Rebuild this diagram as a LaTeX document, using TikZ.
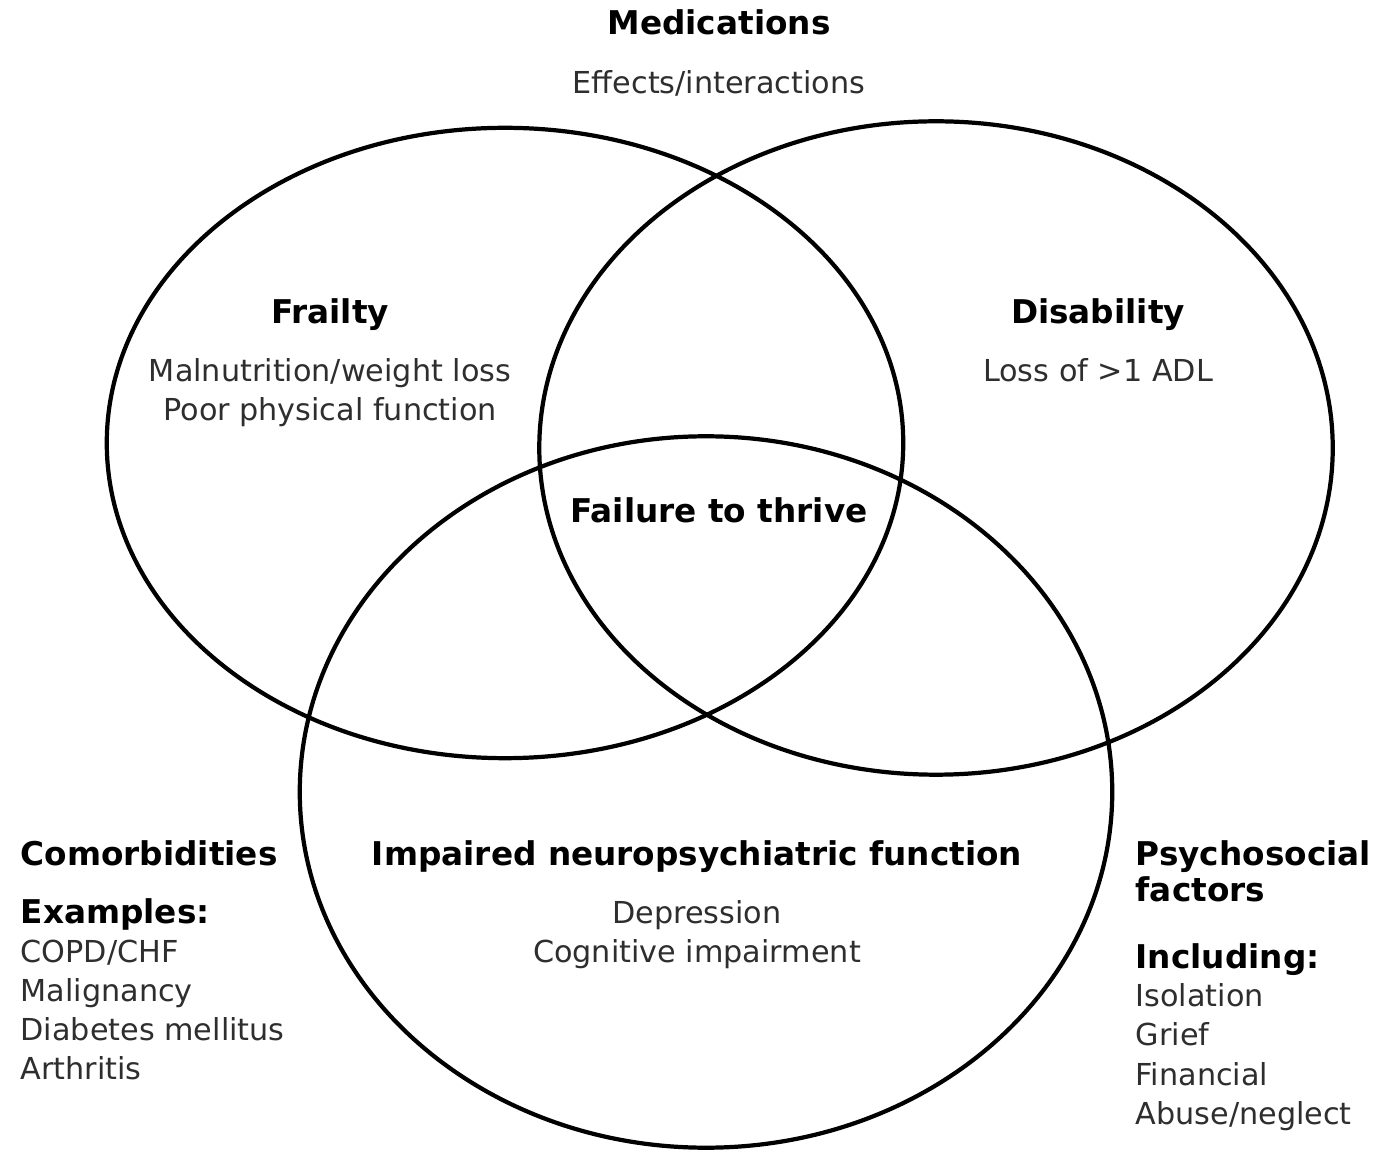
\documentclass[tikz,border=0pt]{standalone}
\usepackage{fontspec}
\setmainfont{DejaVu Sans}
\usetikzlibrary{shapes.geometric}
\begin{document}
\begin{tikzpicture}[x=0.01cm,y=-0.01cm,
  ring/.style={ellipse,draw=black,line width=1.2pt,inner sep=0pt,outer sep=0pt},
  head/.style={font=\fontsize{9.3}{11}\selectfont\bfseries,text=black,inner sep=0pt,anchor=mid},
  body/.style={font=\fontsize{8.6}{11}\selectfont,text=black!82,inner sep=0pt,anchor=mid},
  headl/.style={head,anchor=mid west},
  bodyl/.style={body,anchor=mid west}]
\useasboundingbox[fill=white] (0,0) rectangle (1380,1165);

% the three overlapping domains
\node[ring,minimum width=7.96cm,minimum height=6.30cm] (frailring) at (505,443) {};
\node[ring,minimum width=7.93cm,minimum height=6.53cm] (disring) at (936,448) {};
\node[ring,minimum width=8.12cm,minimum height=7.11cm] (neuroring) at (706,792) {};

% medications, above the diagram
\node[head] (med) at (719,25) {Medications};
\node[body] (medfx) at (719,84) {Effects/interactions};

% frailty
\node[head] (frail) at (330,314) {Frailty};
\node[body] (frail1) at (330,372) {Malnutrition/weight loss};
\node[body] (frail2) at (330,411) {Poor physical function};

% disability
\node[head] (dis) at (1098,314) {Disability};
\node[body] (dis1) at (1098,372) {Loss of >1 ADL};

% centre
\node[head] (ftt) at (719,513) {Failure to thrive};

% neuropsychiatric
\node[head] (neuro) at (697,856) {Impaired neuropsychiatric function};
\node[body] (neuro1) at (697,914) {Depression};
\node[body] (neuro2) at (697,953) {Cognitive impairment};

% comorbidities
\node[headl] (comor) at (20,856) {Comorbidities};
\node[headl] (comorex) at (20,914) {Examples:};
\node[bodyl] (comor1) at (20,953) {COPD/CHF};
\node[bodyl] (comor2) at (20,992) {Malignancy};
\node[bodyl] (comor3) at (20,1031) {Diabetes mellitus};
\node[bodyl] (comor4) at (20,1070) {Arthritis};

% psychosocial factors
\node[headl] (psy) at (1135,856) {Psychosocial};
\node[headl] (psyb) at (1135,892) {factors};
\node[headl] (psyinc) at (1135,959) {Including:};
\node[bodyl] (psy1) at (1135,997) {Isolation};
\node[bodyl] (psy2) at (1135,1036) {Grief};
\node[bodyl] (psy3) at (1135,1076) {Financial};
\node[bodyl] (psy4) at (1135,1115) {Abuse/neglect};
\end{tikzpicture}
\end{document}
